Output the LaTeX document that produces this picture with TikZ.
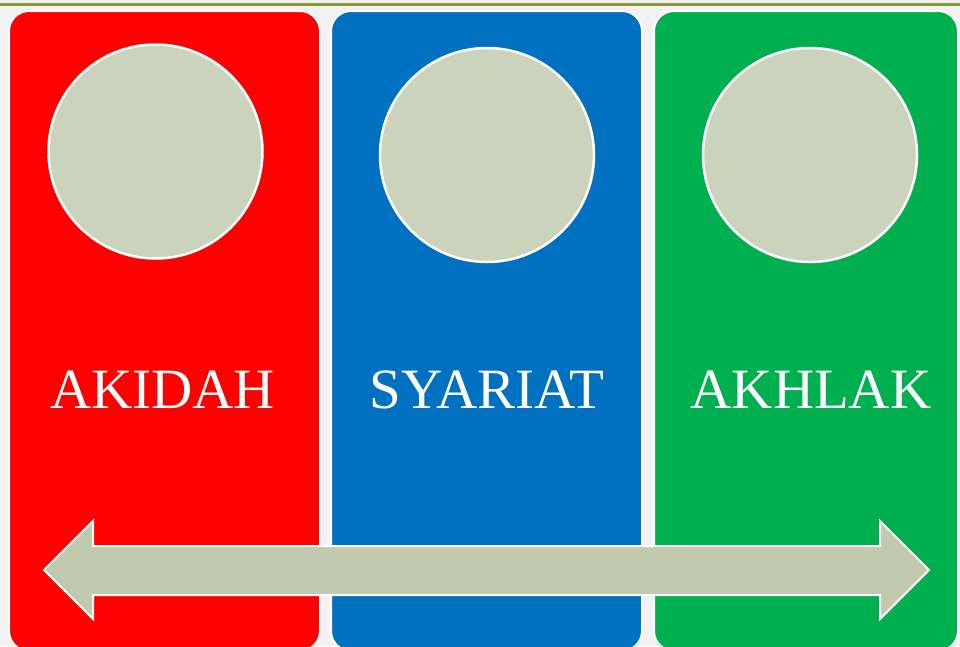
\documentclass[tikz,border=0pt]{standalone}
\usepackage{fontspec}
\usepackage{tikz}
\usetikzlibrary{positioning,calc}
\newfontfamily\lblfont{Liberation Serif}
\definecolor{bgc}{HTML}{F2F2F2}
\definecolor{olv}{HTML}{8A9A36}
\definecolor{akred}{HTML}{FF0000}
\definecolor{syblue}{HTML}{0070C0}
\definecolor{akgreen}{HTML}{00B050}
\definecolor{disc}{HTML}{CBD3BC}
\definecolor{arr}{HTML}{C1C9AE}
\tikzset{
  panel/.style={draw=white,line width=2pt,rounded corners=20pt,minimum height=640pt,inner sep=0pt},
  ring/.style={circle,draw=white,line width=2.5pt,fill=disc,minimum size=214pt,inner sep=0pt},
  lbl/.style={text=white,anchor=base,font=\lblfont\fontsize{57}{62}\selectfont,inner sep=0pt},
}

\begin{document}
\begin{tikzpicture}[x=1pt,y=-1pt]
  \useasboundingbox (0,0) rectangle (960,646);
  \fill[bgc] (0,0) rectangle (960,646);
  \draw[olv,line width=3pt] (0,4) -- (960,4);
  % three columns
  \node[panel,fill=akred,minimum width=311pt] (pa) at (164.5,331) {};
  \node[panel,fill=syblue,minimum width=311pt] (pb) at (486.5,331) {};
  \node[panel,fill=akgreen,minimum width=304pt] (pc) at (806,331) {};
  \node[ring] (ca) at (155.5,151.5) {};
  \node[ring] (cb) at (487,155) {};
  \node[ring] (cc) at (810,155) {};
  \node[lbl] (ta) at (162.5,408) {AKIDAH};
  \node[lbl] (tb) at (487,408) {SYARIAT};
  \node[lbl] (tc) at (811,408) {AKHLAK};
  % double arrow across
  \draw[white,line width=2pt,fill=arr,line join=miter]
    (44,570) -- (93,521) -- (93,546) -- (880,546) -- (880,521) -- (929,570)
    -- (880,619) -- (880,595) -- (93,595) -- (93,619) -- cycle;
\end{tikzpicture}
\end{document}
